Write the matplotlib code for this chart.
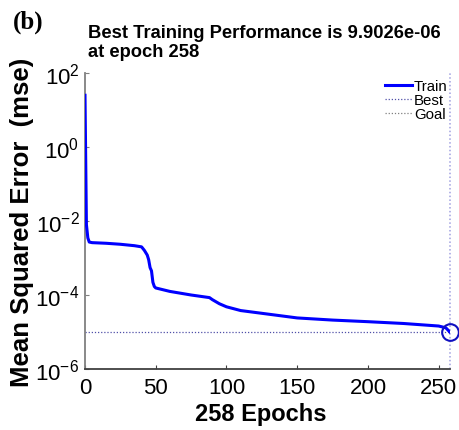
import matplotlib
matplotlib.use("Agg")
import matplotlib.pyplot as plt
from matplotlib.lines import Line2D
import numpy as np

plt.rcParams['font.family'] = ['Liberation Sans', 'DejaVu Sans']
plt.rcParams['mathtext.fontset'] = 'custom'
plt.rcParams['mathtext.rm'] = 'Liberation Sans'
plt.rcParams['mathtext.it'] = 'Liberation Sans:italic'
plt.rcParams['mathtext.bf'] = 'Liberation Sans:bold'

# Data
epochs = [0, 1, 2, 3, 5, 15, 25, 35, 40, 42, 44, 45, 46, 47, 48, 49, 50, 60, 75, 88,
          90, 95, 100, 110, 125, 150, 175, 200, 225, 250, 255, 258]
mse = [25, 8e-3, 3.5e-3, 2.7e-3, 2.6e-3, 2.5e-3, 2.35e-3, 2.15e-3, 2.0e-3, 1.6e-3,
       1.2e-3, 9e-4, 5.5e-4, 4.5e-4, 2.2e-4, 1.7e-4, 1.55e-4, 1.25e-4, 1.0e-4, 8.5e-5,
       7.5e-5, 5.8e-5, 4.8e-5, 3.8e-5, 3.2e-5, 2.4e-5, 2.1e-5, 1.9e-5, 1.7e-5,
       1.45e-5, 1.3e-5, 9.9026e-6]
best_epoch = 258
best_perf = 9.9026e-6
xticks = [0, 50, 100, 150, 200, 250]
yticks = [1e-6, 1e-4, 1e-2, 1e0, 1e2]

W, H = 459, 431
fig = plt.figure(figsize=(W / 100, H / 100), dpi=100)
ax_l, ax_b, ax_w, ax_h = 85, 61, 365, 296
ax = fig.add_axes([ax_l / W, ax_b / H, ax_w / W, ax_h / H])

ax.semilogy(epochs, mse, color='#0000ff', lw=2.2, solid_joinstyle='round', zorder=3)
ax.axhline(best_perf, color='#5050a8', lw=0.9, ls=(0, (1, 1.5)), zorder=2)
ax.axvline(best_epoch, color='#a0a0e0', lw=1.1, ls=(0, (1, 1.5)), zorder=2, clip_on=False)
ax.plot([best_epoch], [best_perf], 'o', mfc='none', mec='#1010c0', ms=12, mew=1.5,
        clip_on=False, zorder=4)

ax.set_xlim(0, 258)
ax.set_ylim(1e-6, 1e2)
ax.set_xticks(xticks)
ax.set_yticks(yticks)
ax.yaxis.set_minor_locator(matplotlib.ticker.NullLocator())
ax.tick_params(direction='in', length=3, labelsize=16)
ax.tick_params(axis='x', pad=6)
ax.tick_params(axis='y', pad=4)

for s in ['top', 'right']:
    ax.spines[s].set_visible(False)
ax.spines['left'].set_color('#808080')
ax.spines['bottom'].set_color('#404040')
ax.spines['left'].set_linewidth(1.3)
ax.spines['bottom'].set_linewidth(1.3)
ax.tick_params(axis='y', colors='#808080', labelcolor='black')
ax.tick_params(axis='x', colors='#404040', labelcolor='black')

ax.set_xlabel('258 Epochs', fontsize=17, fontweight='bold')
ax.set_ylabel('Mean Squared Error  (mse)', fontsize=18.5, fontweight='bold')
ax.xaxis.set_label_coords((261 - ax_l) / ax_w, (H - 415 - ax_b) / ax_h)
ax.xaxis.label.set_va('center')
ax.yaxis.set_label_coords((22 - ax_l) / ax_w, (H - 222 - ax_b) / ax_h)
ax.yaxis.label.set_va('center')

fig.text(88 / W, 1 - 43 / H, 'Best Training Performance is 9.9026e-06\nat epoch 258',
         fontsize=13.2, fontweight='bold', ha='left', va='center', linespacing=1.2)
fig.text(13 / W, 1 - 22 / H, '(b)', fontsize=18, fontweight='bold',
         family='Liberation Serif', ha='left', va='center')

handles = [Line2D([], [], color='#0000ff', lw=2.2),
           Line2D([], [], color='#5050a8', lw=0.9, ls=(0, (1, 1.5))),
           Line2D([], [], color='#808080', lw=0.9, ls=(0, (1, 1.5)))]
ax.legend(handles, ['Train', 'Best', 'Goal'], loc='upper right',
          bbox_to_anchor=(1.027, 1.02), frameon=False, fontsize=10.8,
          handlelength=1.8, handletextpad=0.15, labelspacing=0.0, borderpad=0.3)

fig.savefig('out.png', dpi=100)
